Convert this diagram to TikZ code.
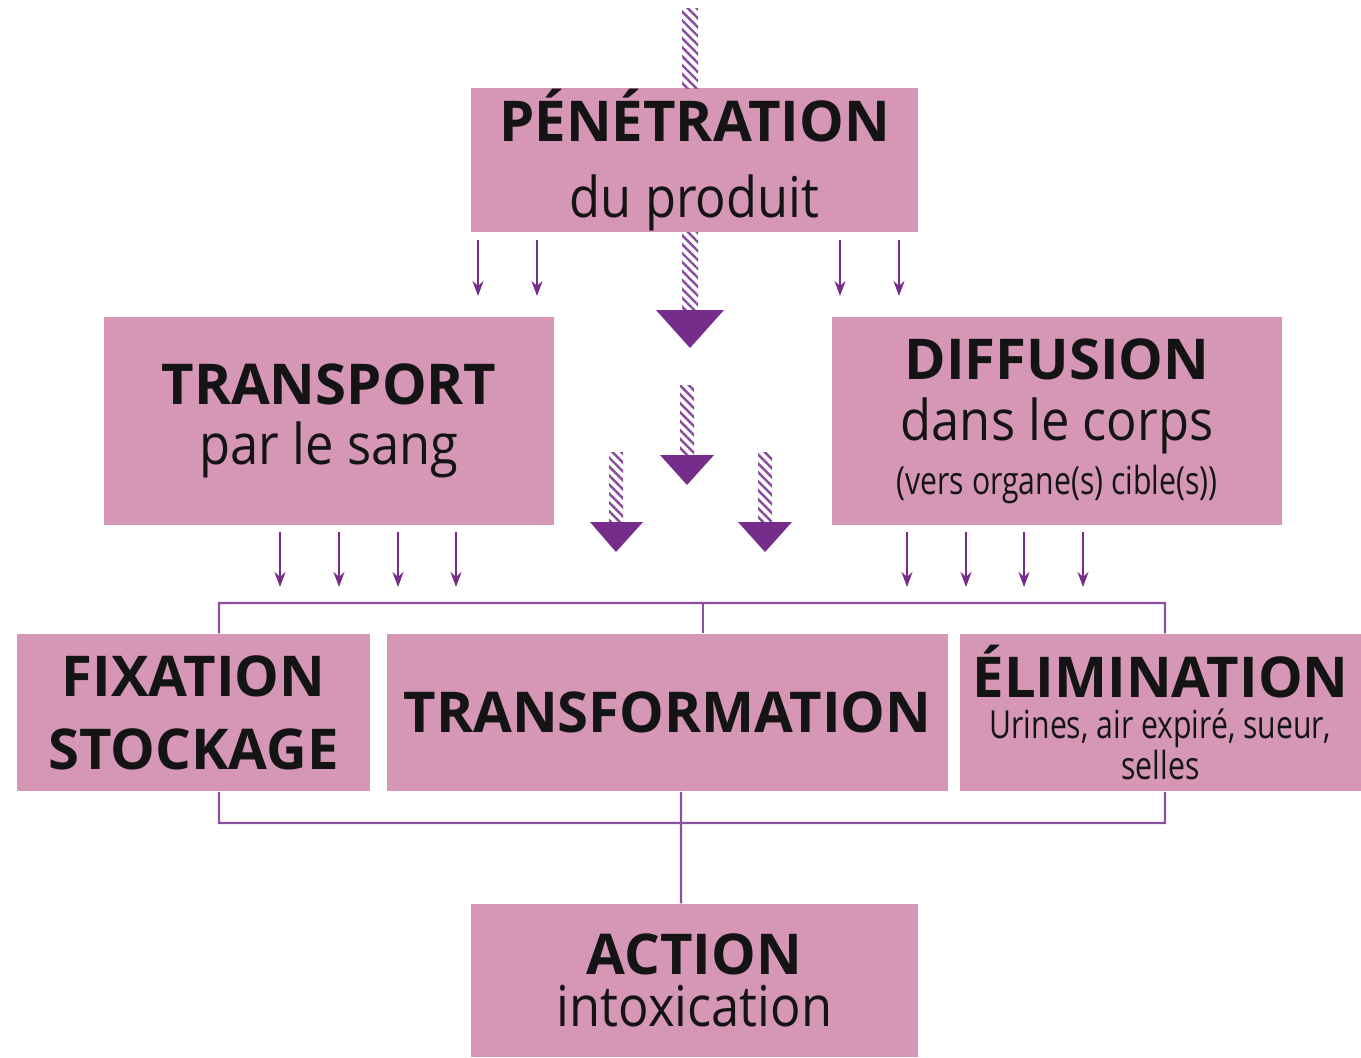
\documentclass[tikz,border=0pt]{standalone}
\usepackage{fontspec}
\setmainfont{Open Sans}
\newfontfamily\subfont[FakeStretch=0.9]{Open Sans}
\newfontfamily\narrowfont[FakeStretch=0.78]{Open Sans}
\usetikzlibrary{arrows.meta,patterns.meta}
\definecolor{boxpink}{RGB}{213,151,181}
\definecolor{arrowpurple}{RGB}{117,44,138}
\definecolor{linepurple}{RGB}{140,78,162}
\newcommand{\titlesize}{\bfseries\fontsize{16}{18}\selectfont}
\newcommand{\subsize}{\subfont\fontsize{16}{18}\selectfont}
\newcommand{\smallsize}{\narrowfont\fontsize{11}{13}\selectfont}
\tikzset{
	box/.style={fill=boxpink, inner sep=0pt, align=center, text=black!92},
	hatch/.style={pattern={Lines[angle=-45,distance=1.8pt,line width=0.7pt]}, pattern color=arrowpurple!85},
	tip/.style={fill=arrowpurple},
	thinarrow/.style={arrowpurple, line width=0.6pt, -{Stealth[length=1.5mm,width=1.1mm]}},
	bracket/.style={linepurple, line width=0.6pt}
}
\begin{document}
\begin{tikzpicture}[x=0.01cm,y=0.01cm]
	\useasboundingbox (0,0) rectangle (1361,-1057);
	% boxes
	\node[box, minimum width=4.47cm, minimum height=1.44cm] (pen) at (694.5,-160) {{\titlesize P\'EN\'ETRATION}\\[8.5pt]{\subsize du produit}};
	\node[box, minimum width=4.50cm, minimum height=2.08cm] (transport) at (329,-421) {{\titlesize TRANSPORT}\\[3.6pt]{\subsize par le sang}};
	\node[box, minimum width=4.50cm, minimum height=2.08cm] (diffusion) at (1057,-421) {{\titlesize DIFFUSION}\\[4pt]{\subsize dans le corps}\\[2.2pt]{\smallsize (vers organe(s) cible(s))}};
	\node[box, minimum width=3.53cm, minimum height=1.57cm] (fixation) at (193.5,-712.5) {{\titlesize FIXATION}\\[8.8pt]{\titlesize STOCKAGE}};
	\node[box, minimum width=5.61cm, minimum height=1.57cm] (transfo) at (667.5,-712.5) {\titlesize TRANSFORMATION};
	\node[box, minimum width=4.01cm, minimum height=1.57cm] (elim) at (1160.5,-712.5) {{\titlesize \'ELIMINATION}\\[-0.3pt]{\smallsize Urines, air expir\'e, sueur,}\\[-0.3pt]{\smallsize selles}};
	\node[box, minimum width=4.47cm, minimum height=1.53cm] (action) at (694.5,-980.5) {{\titlesize ACTION}\\[2.8pt]{\subsize intoxication}};
	% hatched arrows
	\fill[hatch] (682,-8) rectangle (698,-88);
	\fill[hatch] (682,-232) rectangle (698,-312);
	\fill[tip] (656,-310) -- (724,-310) -- (690,-348) -- cycle;
	\fill[hatch] (680,-385) rectangle (694,-456);
	\fill[tip] (660,-455) -- (714,-455) -- (687,-485) -- cycle;
	\fill[hatch] (609,-452) rectangle (623,-523);
	\fill[tip] (590,-522) -- (643,-522) -- (616,-552) -- cycle;
	\fill[hatch] (758,-452) rectangle (772,-523);
	\fill[tip] (738,-522) -- (792,-522) -- (765,-552) -- cycle;
	% small arrows
	\foreach \x in {478,537,840,899}
		\draw[thinarrow] (\x,-240) -- (\x,-296);
	\foreach \x in {280,339,398,456,907,966,1024,1083}
		\draw[thinarrow] (\x,-532) -- (\x,-587);
	% brackets
	\draw[bracket] ([xshift=2.55mm]fixation.north) |- (1165,-603) -- ([xshift=0.45mm]elim.north);
	\draw[bracket] ([xshift=3.55mm]transfo.north) -- ++(0,31);
	\draw[bracket] ([xshift=2.55mm]fixation.south) |- (1165,-823) -- ([xshift=0.45mm]elim.south);
	\draw[bracket] ([xshift=1.35mm]transfo.south) -- ([xshift=-1.35mm]action.north);
\end{tikzpicture}
\end{document}
